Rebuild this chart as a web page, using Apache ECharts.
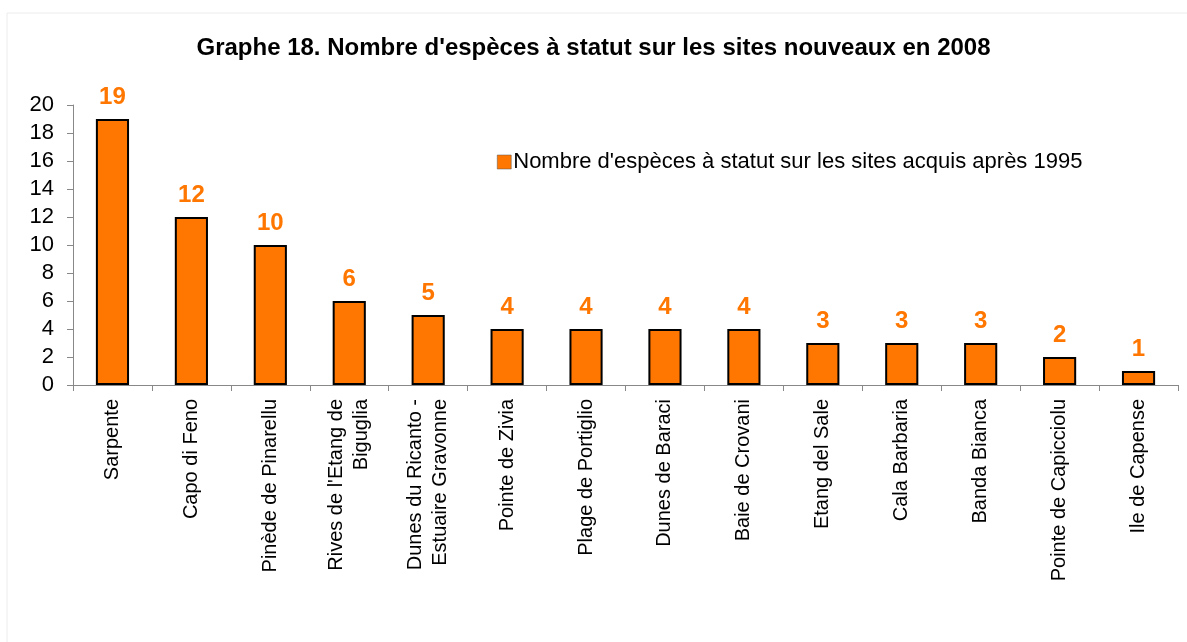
<!DOCTYPE html>
<html><head><meta charset="utf-8">
<script src="https://cdn.jsdelivr.net/npm/echarts@6/dist/echarts.min.js"></script>
<style>html,body{margin:0;padding:0;background:#fff}#c{width:1187px;height:642px}</style>
</head><body><div id="c"></div>
<script>
const categories = ["Sarpente","Capo di Feno","Pinède de Pinarellu","Rives de l'Etang de\nBiguglia","Dunes du Ricanto -\nEstuaire Gravonne","Pointe de Zivia","Plage de Portiglio","Dunes de Baraci","Baie de Crovani","Etang del Sale","Cala Barbaria","Banda Bianca","Pointe de Capicciolu","Ile de Capense"];
const values = [19,12,10,6,5,4,4,4,4,3,3,3,2,1];
const seriesName = "Nombre d'espèces à statut sur les sites acquis après 1995";
const titleText = "Graphe 18. Nombre d'espèces à statut sur les sites nouveaux en 2008";
const font = "Liberation Sans, Arial, sans-serif";
const chart = echarts.init(document.getElementById('c'), null, {renderer:'canvas'});
chart.setOption({
  animation:false,
  backgroundColor:'#fff',
  graphic:[{type:'rect',shape:{x:7,y:13,width:1190,height:640},style:{fill:'none',stroke:'#ececec',lineWidth:1},silent:true}],
  title:{text:titleText,left:'center',top:31,textStyle:{fontFamily:font,fontSize:24,fontWeight:'bold',color:'#000'}},
  legend:{data:[seriesName],left:492,top:146,itemWidth:14,itemHeight:14,itemGap:5,icon:'rect',
    textStyle:{fontFamily:font,fontSize:22,color:'#000',padding:[0,0,0,-3]},
    itemStyle:{borderWidth:0.5,borderColor:'#555'}},
  grid:{left:73,right:9,top:105,bottom:257,containLabel:false},
  xAxis:{type:'category',data:categories,
    axisLine:{lineStyle:{color:'#888',width:1}},
    axisTick:{show:true,length:6,lineStyle:{color:'#888'},alignWithLabel:false},
    axisLabel:{rotate:90,interval:0,fontFamily:font,fontSize:20,color:'#000',margin:14,lineHeight:25,align:'right'}},
  yAxis:{type:'value',min:0,max:20,interval:2,
    axisLine:{show:true,lineStyle:{color:'#888',width:1}},
    axisTick:{show:true,length:6,lineStyle:{color:'#888'}},
    splitLine:{show:false},
    axisLabel:{fontFamily:font,fontSize:22,color:'#000',margin:19}},
  series:[{name:seriesName,type:'bar',data:values,barWidth:'42%',
    itemStyle:{color:'#FF7700',borderColor:'#000',borderWidth:2},
    label:{show:true,position:'top',distance:10,fontFamily:font,fontSize:24,fontWeight:'bold',color:'#FF7700'}}]
});
</script></body></html>
